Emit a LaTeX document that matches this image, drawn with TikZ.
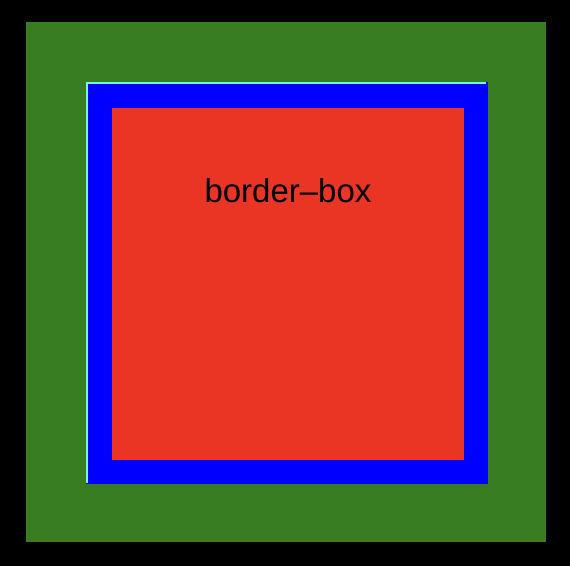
\documentclass[tikz,border=0pt]{standalone}
\usepackage{fontspec}
\setmainfont{Liberation Sans}
\definecolor{marginfill}{HTML}{387D22}
\definecolor{borderfill}{HTML}{0000FF}
\definecolor{contentfill}{HTML}{EA3424}
\definecolor{edgecyan}{HTML}{70F8E0}

\begin{document}
\begin{tikzpicture}[x=1pt, y=-1pt,
  boxtext/.style={font=\fontsize{33}{40}\selectfont, anchor=base, inner sep=0pt, text=black}
]
  % outer frame and margin
  \fill[black] (0,0) rectangle (570,566);
  \fill[marginfill] (26,22) rectangle (546,542);

  % border area with its thin light edge
  \fill[borderfill] (86,82) rectangle (488,484);
  \fill[edgecyan] (86,82) rectangle (486,83.5);
  \fill[edgecyan] (86,82) rectangle (87.5,483);

  % content
  \fill[contentfill] (112,108) rectangle (464,460);
  \node[boxtext] (boxname) at (288,202) {border–box};
\end{tikzpicture}
\end{document}
